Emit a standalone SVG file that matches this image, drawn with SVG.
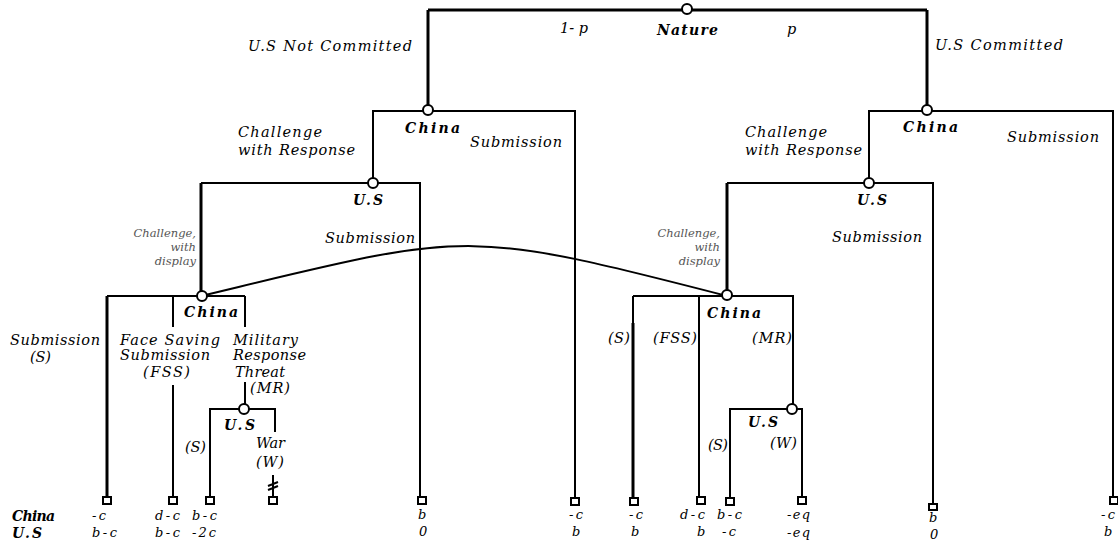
<svg xmlns="http://www.w3.org/2000/svg" width="1118" height="544" viewBox="0 0 1118 544">
<style>
.t{font-family:"DejaVu Serif","Liberation Serif",serif;font-style:italic;font-size:14.5px;fill:#000}
.b{font-weight:bold;font-size:14px}
.g{font-size:11.5px;fill:#555}
.p{font-size:13px}
.ln{stroke:#000;stroke-width:2;fill:none}
.tk{stroke-width:3}
.node{fill:#fff;stroke:#000;stroke-width:2}
.term{fill:#fff;stroke:#000;stroke-width:2}
</style>
<rect width="1118" height="544" fill="#fff"/>
<g id="connectors">
<path class="ln tk" d="M428,10 H927 M428,10 V106 M927,10 V106"/>
<path class="ln" d="M373,183 V111 H575 V498"/>
<path class="ln" d="M869,183 V111 H1113 V498"/>
<path class="ln" d="M201,183 H420 V498"/>
<path class="ln tk" d="M201,183 V296"/>
<path class="ln" d="M727,183 H933 V504"/>
<path class="ln tk" d="M727,183 V296"/>
<path class="ln" d="M107,296 H245 M173,296 V327 M173,385 V498 M245,296 V327 M245,382 V405"/>
<path class="ln tk" d="M107,296 V498"/>
<path class="ln" d="M210,498 V409 H275 V432"/>
<path class="ln" d="M273,475 V497 M268,486 L278,482 M268,490 L278,486"/>
<path class="ln" d="M633,296 H793 V405 M699,296 V498 M633,296 V323"/>
<path class="ln tk" d="M633,323 V498"/>
<path class="ln" d="M730,498 V409 H802 V497"/>
<path class="ln" d="M201,296 C468,232 460,227 727,296"/>
<text class="t" x="248" y="51" textLength="164">U.S Not Committed</text>
<text class="t" x="560" y="33" textLength="28">1- p</text>
<text class="t" x="787" y="34">p</text>
<text class="t" x="935" y="50" textLength="128">U.S Committed</text>
<text class="t" x="238" y="137" textLength="84">Challenge</text>
<text class="t" x="238" y="155" textLength="117">with Response</text>
<text class="t" x="470" y="147" textLength="92">Submission</text>
<text class="t" x="745" y="137" textLength="82">Challenge</text>
<text class="t" x="745" y="155" textLength="117">with Response</text>
<text class="t" x="1007" y="142" textLength="92">Submission</text>
<text class="t" x="325" y="243" textLength="90">Submission</text>
<text class="t" x="832" y="242" textLength="90">Submission</text>
<g class="t g" text-anchor="end">
<text x="196" y="237">Challenge,</text>
<text x="196" y="251">with</text>
<text x="196" y="265">display</text>
<text x="720" y="237">Challenge,</text>
<text x="720" y="251">with</text>
<text x="720" y="265">display</text>
</g>
<text class="t" x="10" y="345" textLength="90">Submission</text>
<text class="t" x="30" y="362" textLength="21">(S)</text>
<text class="t" x="120" y="345" textLength="100">Face Saving</text>
<text class="t" x="120" y="360" textLength="90">Submission</text>
<text class="t" x="143" y="377" textLength="47">(FSS)</text>
<text class="t" x="233" y="345" textLength="65">Military</text>
<text class="t" x="233" y="360" textLength="73">Response</text>
<text class="t" x="235" y="377" textLength="50">Threat</text>
<text class="t" x="250" y="393" textLength="40">(MR)</text>
<text class="t" x="185" y="452" textLength="21">(S)</text>
<text class="t" x="256" y="448" textLength="29">War</text>
<text class="t" x="256" y="467" textLength="28">(W)</text>
<text class="t" x="608" y="343" textLength="22">(S)</text>
<text class="t" x="653" y="343" textLength="44">(FSS)</text>
<text class="t" x="752" y="343" textLength="40">(MR)</text>
<text class="t" x="708" y="450" textLength="20">(S)</text>
<text class="t" x="770" y="448" textLength="27">(W)</text>
</g>
<g id="nature"><circle class="node" cx="687" cy="9" r="5"/><text class="t b" x="657" y="35" textLength="61">Nature</text></g>
<g id="china1"><circle class="node" cx="428" cy="110" r="5"/><text class="t b" x="405" y="133" textLength="55">China</text></g>
<g id="china2"><circle class="node" cx="927" cy="110" r="5"/><text class="t b" x="903" y="132" textLength="55">China</text></g>
<g id="us1"><circle class="node" cx="373" cy="183" r="5"/><text class="t b" x="353" y="205" textLength="30">U.S</text></g>
<g id="us2"><circle class="node" cx="869" cy="183" r="5"/><text class="t b" x="857" y="205" textLength="30">U.S</text></g>
<g id="china3"><circle class="node" cx="202" cy="296" r="5"/><text class="t b" x="184" y="317" textLength="54">China</text></g>
<g id="china4"><circle class="node" cx="727" cy="295" r="5"/><text class="t b" x="707" y="318" textLength="54">China</text></g>
<g id="us3"><circle class="node" cx="244" cy="409" r="5"/><text class="t b" x="224" y="430" textLength="31">U.S</text></g>
<g id="us4"><circle class="node" cx="792" cy="409" r="5"/><text class="t b" x="748" y="427" textLength="30">U.S</text></g>
<g id="payoff-labels">
<text class="t b" x="12" y="521" textLength="43">China</text>
<text class="t b" x="12" y="538" textLength="30">U.S</text>
</g>
<g id="terminals" class="t p">
<g id="t1"><rect class="term" x="103" y="497" width="8" height="7"/><text x="92" y="520" textLength="14">-c</text><text x="92" y="537" textLength="25">b-c</text></g>
<g id="t2"><rect class="term" x="169" y="497" width="8" height="7"/><text x="155" y="520" textLength="25">d-c</text><text x="155" y="537" textLength="25">b-c</text></g>
<g id="t3"><rect class="term" x="206" y="497" width="8" height="7"/><text x="192" y="520" textLength="25">b-c</text><text x="192" y="537" textLength="24">-2c</text></g>
<g id="t4"><rect class="term" x="269" y="497" width="8" height="7"/></g>
<g id="t5"><rect class="term" x="418" y="497" width="8" height="7"/><text x="418" y="519">b</text><text x="419" y="536">0</text></g>
<g id="t6"><rect class="term" x="571" y="498" width="8" height="7"/><text x="569" y="519" textLength="14">-c</text><text x="572" y="536">b</text></g>
<g id="t7"><rect class="term" x="630" y="498" width="8" height="7"/><text x="629" y="519" textLength="14">-c</text><text x="631" y="536">b</text></g>
<g id="t8"><rect class="term" x="697" y="497" width="8" height="7"/><text x="680" y="519" textLength="25">d-c</text><text x="697" y="536">b</text></g>
<g id="t9"><rect class="term" x="726" y="498" width="8" height="7"/><text x="717" y="519" textLength="25">b-c</text><text x="722" y="536" textLength="14">-c</text></g>
<g id="t10"><rect class="term" x="798" y="497" width="8" height="7"/><text x="787" y="519" textLength="23">-eq</text><text x="787" y="537" textLength="23">-eq</text></g>
<g id="t11"><rect class="term" x="929" y="504" width="8" height="6"/><text x="929" y="522">b</text><text x="930" y="539">0</text></g>
<g id="t12"><rect class="term" x="1110" y="497" width="8" height="7"/><text x="1101" y="519" textLength="14">-c</text><text x="1104" y="536">b</text></g>
</g>
</svg>
